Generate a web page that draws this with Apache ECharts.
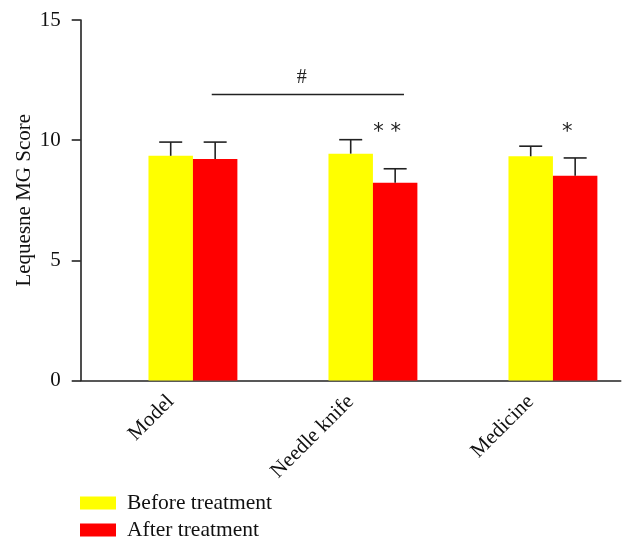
<!DOCTYPE html>
<html><head><meta charset="utf-8">
<script src="https://cdn.jsdelivr.net/npm/echarts@6/dist/echarts.min.js"></script>
<style>html,body{margin:0;padding:0;background:#fff}#c{width:635px;height:546px}</style>
</head><body><div id="c"></div>
<script>
// ---- data ----
const categories = ['Model', 'Needle knife', 'Medicine'];
const beforeMean = [9.35, 9.44, 9.33];
const beforeSD   = [0.57, 0.58, 0.42];
const afterMean  = [9.22, 8.23, 8.52];
const afterSD    = [0.70, 0.58, 0.74];
const afterMarks = ['', '* *', '*'];
const afterMarkValue = [null, 10.3, 10.3];
const yTicks = [0, 5, 10, 15];
const bracketFrom = 0, bracketTo = 1, bracketValue = 11.9, bracketLabel = '#';

// ---- style ----
const FONT = 'Liberation Serif';
const BAR_FRAC = 0.247;
const CAP = 23;
const AXIS_COLOR = '#222';

const chart = echarts.init(document.getElementById('c'), null, {renderer: 'canvas'});

function barRenderer(shift, color) {
  return function (params, api) {
    const i = api.value(0), v = api.value(1), sd = api.value(2);
    const band = api.size([1, 0])[0];
    const w = band * BAR_FRAC;
    const top = api.coord([i, v]);
    const base = api.coord([i, 0]);
    const err = api.coord([i, v + sd]);
    const cx = top[0] + shift * w;
    return {type: 'group', children: [
      {type: 'rect', shape: {x: cx - w / 2, y: top[1], width: w, height: base[1] - top[1]}, style: {fill: color}},
      {type: 'line', shape: {x1: cx, y1: top[1], x2: cx, y2: err[1]}, style: {stroke: AXIS_COLOR, lineWidth: 1.6}},
      {type: 'line', shape: {x1: cx - CAP / 2, y1: err[1], x2: cx + CAP / 2, y2: err[1]}, style: {stroke: AXIS_COLOR, lineWidth: 1.6}}
    ]};
  };
}

const beforeData = categories.map((c, i) => [i, beforeMean[i], beforeSD[i]]);
const afterData = categories.map((c, i) => [i, afterMean[i], afterSD[i]]);
const markData = categories.map((c, i) => [i, afterMarkValue[i] == null ? 0 : afterMarkValue[i], afterMarks[i]]);

chart.setOption({
  animation: false,
  backgroundColor: '#fff',
  grid: {left: 80.7, right: 14.3, top: 20, bottom: 165.5, containLabel: false},
  legend: {
    orient: 'vertical', left: 75, top: 487, itemWidth: 36, itemHeight: 13, itemGap: 5,
    icon: 'rect',
    data: ['Before treatment', 'After treatment'],
    textStyle: {fontFamily: FONT, fontSize: 21.5, color: '#111', lineHeight: 21, padding: [0, 0, 0, 6]}
  },
  xAxis: {
    type: 'category', data: categories, boundaryGap: true,
    axisLine: {lineStyle: {color: AXIS_COLOR, width: 1.6}},
    axisTick: {alignWithLabel: true, length: 8, lineStyle: {color: AXIS_COLOR, width: 1.6}},
    axisLabel: {rotate: 45, margin: 18, fontFamily: FONT, fontSize: 21, color: '#111'}
  },
  yAxis: {
    type: 'value', min: yTicks[0], max: yTicks[yTicks.length - 1], interval: yTicks[1] - yTicks[0],
    name: 'Lequesne MG Score', nameLocation: 'middle', nameGap: 46, nameMoveOverlap: false,
    nameTextStyle: {fontFamily: FONT, fontSize: 21, color: '#111'},
    axisLine: {show: true, lineStyle: {color: AXIS_COLOR, width: 1.6}},
    axisTick: {show: true, length: 9, lineStyle: {color: AXIS_COLOR, width: 1.6}},
    axisLabel: {margin: 20, fontFamily: FONT, fontSize: 21, color: '#111'},
    splitLine: {show: false}
  },
  series: [
    {name: 'Before treatment', type: 'custom', data: beforeData, itemStyle: {color: '#ffff00'},
     encode: {x: 0, y: 1}, renderItem: barRenderer(0, '#ffff00')},
    {name: 'After treatment', type: 'custom', data: afterData, itemStyle: {color: '#ff0000'},
     encode: {x: 0, y: 1}, renderItem: barRenderer(1, '#ff0000')},
    {name: 'marks', type: 'custom', data: markData, encode: {x: 0, y: 1}, silent: true,
     renderItem: function (params, api) {
       const i = api.value(0), v = api.value(1);
       const text = markData[params.dataIndex][2];
       if (!text) return null;
       const band = api.size([1, 0])[0];
       const p = api.coord([i, v]);
       return {type: 'text', x: p[0] + band * BAR_FRAC - 8, y: p[1],
         style: {text: text, fontFamily: 'DejaVu Sans', fontSize: 21, fill: '#222', align: 'center', verticalAlign: 'middle'}};
     }},
    {name: 'bracket', type: 'custom', data: [[bracketFrom, bracketValue, bracketTo]], encode: {x: 0, y: 1}, silent: true,
     renderItem: function (params, api) {
       const band = api.size([1, 0])[0];
       const a = api.coord([api.value(0), api.value(1)]);
       const b = api.coord([api.value(2), api.value(1)]);
       const x1 = a[0] + band * 0.228, x2 = b[0] + band * 0.296;
       return {type: 'group', children: [
         {type: 'line', shape: {x1: x1, y1: a[1], x2: x2, y2: a[1]}, style: {stroke: AXIS_COLOR, lineWidth: 1.6}},
         {type: 'text', x: (x1 + x2) / 2 - 6, y: a[1] - 17,
          style: {text: bracketLabel, fontFamily: FONT, fontSize: 20, fill: '#222', align: 'center', verticalAlign: 'middle'}}
       ]};
     }}
  ]
});
</script></body></html>
